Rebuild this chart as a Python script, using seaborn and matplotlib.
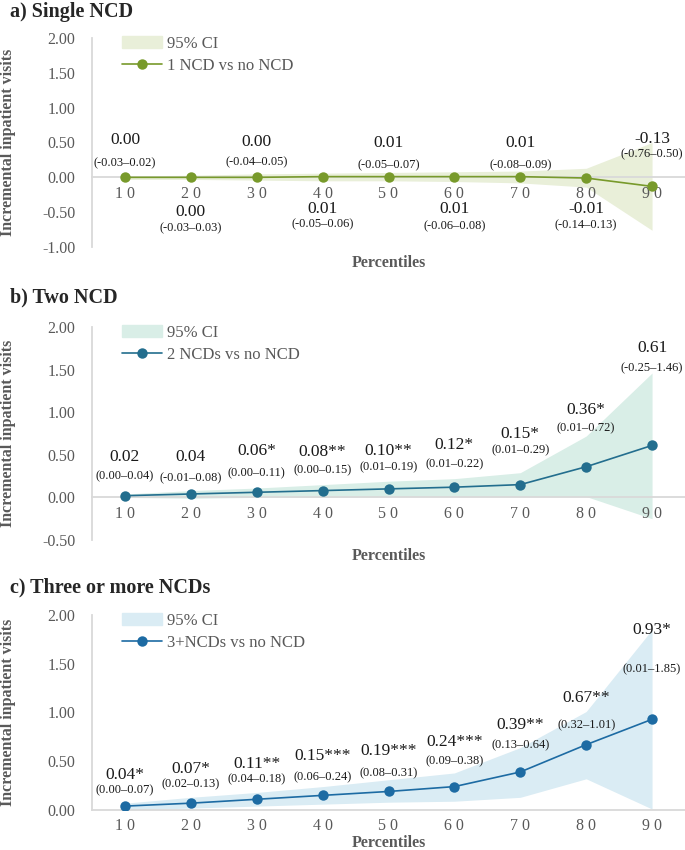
import numpy as np
import matplotlib
matplotlib.use("Agg")
from matplotlib import pyplot as plt
from matplotlib.patches import Patch
import seaborn as sns

# percentiles on the x axis
percentiles = ["1 0", "2 0", "3 0", "4 0", "5 0", "6 0", "7 0", "8 0", "9 0"]

# a) single NCD
one_est = [0.00, 0.00, 0.00, 0.01, 0.01, 0.01, 0.01, -0.01, -0.13]
one_lo = [-0.03, -0.03, -0.04, -0.05, -0.05, -0.06, -0.08, -0.14, -0.76]
one_hi = [0.02, 0.03, 0.05, 0.06, 0.07, 0.08, 0.09, 0.13, 0.50]
one_stars = ["", "", "", "", "", "", "", "", ""]

# b) two NCDs
two_est = [0.02, 0.04, 0.06, 0.08, 0.10, 0.12, 0.15, 0.36, 0.61]
two_lo = [0.00, -0.01, 0.00, 0.00, 0.01, 0.01, 0.01, 0.01, -0.25]
two_hi = [0.04, 0.08, 0.11, 0.15, 0.19, 0.22, 0.29, 0.72, 1.46]
two_stars = ["", "", "*", "**", "**", "*", "*", "*", ""]

# c) three or more NCDs
three_est = [0.04, 0.07, 0.11, 0.15, 0.19, 0.24, 0.39, 0.67, 0.93]
three_lo = [0.00, 0.02, 0.04, 0.06, 0.08, 0.09, 0.13, 0.32, 0.01]
three_hi = [0.07, 0.13, 0.18, 0.24, 0.31, 0.38, 0.64, 1.01, 1.85]
three_stars = ["*", "*", "**", "***", "***", "***", "**", "**", "*"]

# where the data labels sit (estimate label, CI label), in data units
one_lab_y = [0.53, -0.50, 0.51, -0.46, 0.49, -0.46, 0.49, -0.46, 0.55]
one_ci_y = [0.20, -0.73, 0.22, -0.67, 0.17, -0.70, 0.17, -0.69, 0.33]
two_lab_y = [0.47, 0.47, 0.54, 0.53, 0.55, 0.61, 0.74, 1.03, 1.75]
two_ci_y = [0.25, 0.22, 0.28, 0.32, 0.35, 0.39, 0.55, 0.81, 1.52]
three_lab_y = [0.36, 0.42, 0.47, 0.55, 0.61, 0.70, 0.87, 1.15, 1.85]
three_ci_y = [0.20, 0.26, 0.31, 0.34, 0.38, 0.50, 0.66, 0.87, 1.44]

sns.set_style("white")
plt.rcParams["font.family"] = ["Liberation Serif", "DejaVu Serif"]

GRAY = "#595959"
AXGRAY = "#d9d9d9"

fig = plt.figure(figsize=(6.85, 8.5), dpi=100)
H = 850.0
W = 685.0


def add_panel(top_px, bot_px, ylim, yticks, title, title_px, est, lo, hi, stars,
              lab_y, ci_y, color, fill, line_label):
    left = 92 / W
    ax = fig.add_axes([left, 1 - bot_px / H, 1 - left, (bot_px - top_px) / H])
    ax.set_axisbelow(False)
    x = np.arange(len(percentiles))
    ax.fill_between(x, lo, hi, color=fill, linewidth=0, zorder=1)
    sns.lineplot(x=x, y=est, marker="o", color=color, markersize=7.5,
                 markeredgewidth=0, linewidth=1.2, ax=ax, zorder=3)
    line_h = ax.lines[-1]

    for i in range(len(x)):
        ax.text(x[i], lab_y[i], f"{est[i]:.2f}{stars[i]}", ha="center",
                va="center", fontsize=12.5, color="#1a1a1a", zorder=4)
        ax.text(x[i], ci_y[i], f"({lo[i]:.2f}\u2013{hi[i]:.2f})", ha="center",
                va="center", fontsize=9, color="#1a1a1a", zorder=4)

    ax.set_xlim(-0.5, len(x) - 0.5)
    ax.set_ylim(*ylim)
    ax.set_yticks(yticks)
    ax.set_yticklabels([f"{t:.2f}" for t in yticks])
    ax.set_xticks(x)
    ax.set_xticklabels(percentiles)
    ax.tick_params(axis="both", length=0, labelsize=11.5, colors=GRAY)
    ax.tick_params(axis="y", pad=12)
    ax.tick_params(axis="x", pad=6)
    sns.despine(ax=ax, top=True, right=True)
    ax.spines["bottom"].set_position(("data", 0))
    ax.spines["bottom"].set_color(AXGRAY)
    ax.spines["bottom"].set_linewidth(1.3)
    ax.spines["left"].set_color(AXGRAY)
    ax.spines["left"].set_linewidth(1.3)
    ax.patch.set_alpha(0)

    leg = ax.legend(handles=[Patch(color=fill), line_h],
                    labels=["95% CI", line_label], loc="upper left",
                    bbox_to_anchor=(0.05, 1.01), frameon=False, fontsize=12,
                    handlelength=2.4, handletextpad=0.3, labelspacing=0.35,
                    borderaxespad=0, borderpad=0)
    for t in leg.get_texts():
        t.set_color(GRAY)

    fig.text(10 / W, 1 - title_px / H, title, fontsize=14.5, fontweight="bold",
             ha="left", va="center")
    xlab_px = bot_px + 16 if ylim[0] < 0 else bot_px + 33
    fig.text((92 + 685) / 2 / W, 1 - xlab_px / H,
             "Percentiles", fontsize=11.5, fontweight="bold", color=GRAY,
             ha="center", va="center")
    fig.text(8 / W, 1 - (top_px + bot_px) / 2 / H, "Incremental inpatient visits",
             rotation=90, fontsize=11.5, fontweight="bold", color=GRAY,
             ha="center", va="center")
    return ax


add_panel(38, 247, (-1.0, 2.0), [-1.0, -0.5, 0.0, 0.5, 1.0, 1.5, 2.0],
          "a) Single NCD", 12, one_est, one_lo, one_hi, one_stars,
          one_lab_y, one_ci_y, "#789a2b", "#e9efd9", "1 NCD vs no NCD")
add_panel(327, 540, (-0.5, 2.0), [-0.5, 0.0, 0.5, 1.0, 1.5, 2.0],
          "b) Two NCD", 297, two_est, two_lo, two_hi, two_stars,
          two_lab_y, two_ci_y, "#236e8e", "#d9eee7", "2 NCDs vs no NCD")
add_panel(615, 810, (0.0, 2.0), [0.0, 0.5, 1.0, 1.5, 2.0],
          "c) Three or more NCDs", 587, three_est, three_lo, three_hi, three_stars,
          three_lab_y, three_ci_y, "#1d6ba3", "#daecf4", "3+NCDs vs no NCD")

fig.savefig("out.png", dpi=100)
